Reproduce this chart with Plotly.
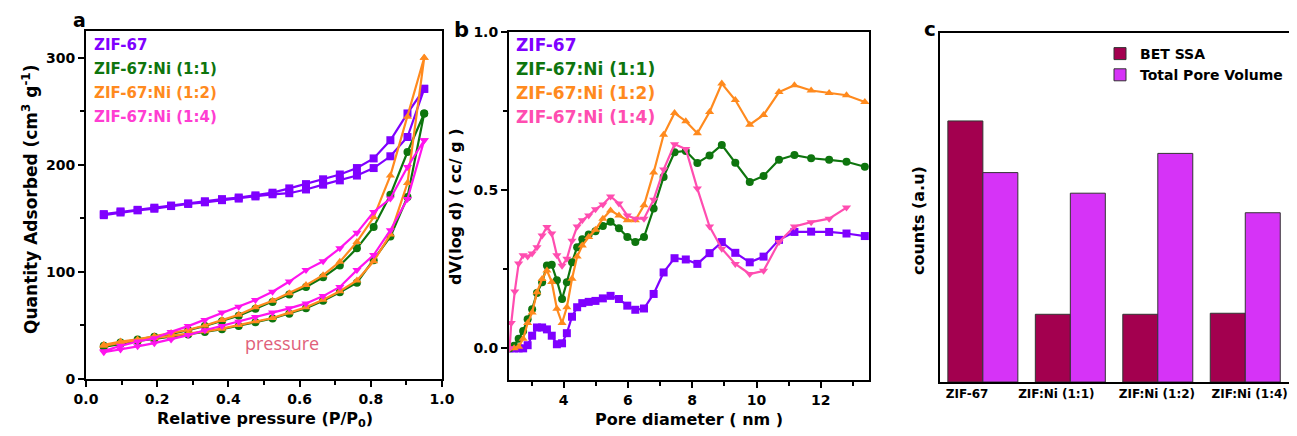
import plotly.graph_objects as go

# page has an 8px body margin; the figure is sized to fill the rest of the window
PAGE_OFF = 8
W, H = 1297 - PAGE_OFF, 436 - PAGE_OFF

# ---------------- Panel a: N2 isotherms ----------------
pa_x = [0.050, 0.097, 0.145, 0.192, 0.239, 0.287, 0.334, 0.382, 0.429, 0.476,
        0.524, 0.571, 0.618, 0.666, 0.713, 0.761, 0.808, 0.855, 0.903, 0.950]

zif_ads = [153, 155.5, 157.5, 159, 161.5, 163.5, 165, 167, 168.5, 170.5,
           172.5, 173.5, 177, 181.5, 185.5, 190, 197, 208, 226, 271]
zif_des = [154, 156.5, 158, 160, 162, 164, 166, 168, 169.5, 171.5,
           174, 178, 182, 186.5, 191, 197, 206, 223, 248, 271]
ni11_ads = [30, 33, 35.5, 37.5, 39.5, 41.5, 44, 46.5, 49.5, 53,
            56.5, 61, 66, 73, 81, 90, 111, 133, 170, 248]
ni11_des = [31, 34, 37, 39.5, 42, 45.5, 49.5, 54, 59, 65.5,
            72, 79, 86, 95, 106, 122, 142, 172, 212, 248]
ni12_ads = [31, 34, 36, 38, 40, 42, 44.5, 47, 50.5, 54,
            57, 62, 67, 74, 82, 92, 110, 135, 183, 300]
ni12_des = [32, 35, 37, 40, 43, 46, 50, 55, 60, 67,
            73, 80, 87.7, 97, 109.4, 128, 151, 190, 245, 300]
ni14_ads = [25, 27.5, 30.5, 33.5, 37, 41, 45.5, 49.5, 53.5, 58,
            62, 66, 70.6, 77.4, 86, 101.7, 115.7, 139, 168, 223]
ni14_des = [26, 31, 35, 38, 44, 49.4, 55, 62, 67.5, 73.7,
            81.5, 91, 101.7, 110, 122, 136.5, 156, 168.5, 198, 223]

# ---------------- Panel b: pore size distribution ----------------
pb_x = [2.32, 2.46, 2.60, 2.74, 2.88, 3.02, 3.17, 3.33, 3.48, 3.63,
        3.79, 3.95, 4.10, 4.26, 4.42, 4.58, 4.78, 4.99, 5.22, 5.46,
        5.72, 5.98, 6.23, 6.50, 6.80, 7.11, 7.45, 7.80, 8.16, 8.54,
        8.92, 9.34, 9.79, 10.22, 10.70, 11.18, 11.70, 12.26, 12.80, 13.37]
psd_zif = [0.0, 0.0, 0.0, 0.0, 0.01, 0.04, 0.066, 0.066, 0.06, 0.04,
           0.013, 0.016, 0.048, 0.10, 0.13, 0.143, 0.147, 0.15, 0.158, 0.166,
           0.156, 0.135, 0.122, 0.126, 0.172, 0.24, 0.285, 0.281, 0.267, 0.301,
           0.336, 0.302, 0.272, 0.29, 0.343, 0.368, 0.369, 0.368, 0.363, 0.355]
psd_11 = [0.0, 0.008, 0.03, 0.055, 0.092, 0.124, 0.175, 0.209, 0.262, 0.264,
          0.215, 0.156, 0.209, 0.272, 0.32, 0.345, 0.36, 0.37, 0.387, 0.40,
          0.38, 0.352, 0.336, 0.352, 0.442, 0.542, 0.62, 0.624, 0.586, 0.61,
          0.643, 0.587, 0.526, 0.545, 0.596, 0.611, 0.601, 0.596, 0.59, 0.574]
psd_12 = [0.0, 0.0, 0.005, 0.03, 0.08, 0.113, 0.177, 0.219, 0.246, 0.21,
          0.125, 0.08, 0.13, 0.22, 0.29, 0.325, 0.352, 0.375, 0.41, 0.436,
          0.42, 0.405, 0.405, 0.452, 0.556, 0.675, 0.744, 0.718, 0.68, 0.747,
          0.837, 0.785, 0.707, 0.738, 0.81, 0.832, 0.815, 0.807, 0.8, 0.779]
pb_x14 = [2.32, 2.37, 2.48, 2.60, 2.74, 2.88, 3.02, 3.17, 3.33, 3.48, 3.63,
          3.79, 3.95, 4.10, 4.26, 4.42, 4.58, 4.78, 4.99, 5.22, 5.46,
          5.72, 5.98, 6.23, 6.50, 6.80, 7.11, 7.45, 7.80, 8.16, 8.54,
          8.92, 9.34, 9.79, 10.22, 10.70, 11.18, 11.70, 12.26, 12.80]
psd_14 = [0.0, 0.08, 0.18, 0.268, 0.294, 0.29, 0.30, 0.32, 0.357, 0.384, 0.363,
          0.294, 0.261, 0.283, 0.34, 0.385, 0.405, 0.42, 0.44, 0.455, 0.48,
          0.458, 0.42, 0.41, 0.41, 0.47, 0.565, 0.645, 0.63, 0.505, 0.385,
          0.315, 0.267, 0.235, 0.245, 0.336, 0.385, 0.399, 0.41, 0.445]

# ---------------- Panel c: bars ----------------
samples_c = ["ZIF-67", "ZIF:Ni (1:1)", "ZIF:Ni (1:2)", "ZIF:Ni (1:4)"]
bet_ssa = [74.8, 19.4, 19.4, 19.7]
pore_vol = [60.0, 54.1, 65.5, 48.5]

legend_names = ["ZIF-67", "ZIF-67:Ni (1:1)", "ZIF-67:Ni (1:2)", "ZIF-67:Ni (1:4)"]

PURPLE = "#7F00FF"
GREEN = "#0E750E"
ORANGE = "#FF8A1E"
MAGENTA = "#FF14EE"
PINK = "#FF4DB0"
BET_C = "#A3004F"
TPV_C = "#D633F7"

FONT = "DejaVu Sans"

fig = go.Figure()

iso = [
    (zif_ads, zif_des, PURPLE, "square"),
    (ni11_ads, ni11_des, GREEN, "circle"),
    (ni12_ads, ni12_des, ORANGE, "triangle-up"),
    (ni14_ads, ni14_des, MAGENTA, "triangle-down"),
]
for (ads, des, col, sym), name in zip(iso, legend_names):
    fig.add_trace(go.Scatter(
        x=pa_x + pa_x[::-1], y=ads + des[::-1], mode="lines+markers",
        line=dict(color=col, width=2.2), marker=dict(symbol=sym, size=8, color=col),
        name=name, showlegend=False, xaxis="x", yaxis="y"))

psd = [
    (pb_x, psd_zif, PURPLE, "square"),
    (pb_x, psd_11, GREEN, "circle"),
    (pb_x, psd_12, ORANGE, "triangle-up"),
    (pb_x14, psd_14, PINK, "triangle-down"),
]
for (xs, ys, col, sym), name in zip(psd, legend_names):
    fig.add_trace(go.Scatter(
        x=xs, y=ys, mode="lines+markers",
        line=dict(color=col, width=2.2), marker=dict(symbol=sym, size=8, color=col),
        name=name, showlegend=False, xaxis="x2", yaxis="y2"))

xc = list(range(len(samples_c)))
fig.add_trace(go.Bar(x=xc, y=bet_ssa, name="BET SSA",
                     marker=dict(color=BET_C, line=dict(color="#333333", width=1)),
                     xaxis="x3", yaxis="y3"))
fig.add_trace(go.Bar(x=xc, y=pore_vol, name="Total Pore Volume",
                     marker=dict(color=TPV_C, line=dict(color="#333333", width=1)),
                     xaxis="x3", yaxis="y3"))

tickfont = dict(family=FONT, size=14, color="black", weight="bold")
base = dict(showline=True, linecolor="black", linewidth=2, mirror=True, ticks="outside",
            ticklen=6, tickwidth=1.5, tickcolor="black", showgrid=False, zeroline=False,
            tickfont=tickfont, automargin=False)


def minor(d):
    return dict(ticks="outside", ticklen=4, tickwidth=1.5, tickcolor="black", dtick=d, showgrid=False)


# convert target page pixels to paper fractions
def px(v):
    return (v - PAGE_OFF) / W


def py(v):
    return 1 - (v - PAGE_OFF) / H


label_offsets = [-0.18, -0.16, -0.01, 0.05]

fig.update_layout(
    width=W, height=H, margin=dict(l=0, r=0, t=0, b=0, autoexpand=False),
    paper_bgcolor="white", plot_bgcolor="white",
    barmode="group", bargap=0.2, bargroupgap=0,
    xaxis=dict(base, domain=[px(86), px(442)], range=[0, 1], tickvals=[0, 0.2, 0.4, 0.6, 0.8, 1.0],
               tickformat=".1f", minor=minor(0.1), anchor="y"),
    yaxis=dict(base, domain=[py(379), py(31)], range=[0, 325], tickvals=[0, 100, 200, 300],
               minor=minor(50), anchor="x"),
    xaxis2=dict(base, domain=[px(509), px(869)], range=[2.3, 13.5], tickvals=[4, 6, 8, 10, 12],
                minor=minor(1), anchor="y2"),
    yaxis2=dict(base, domain=[py(380), py(32)], range=[-0.1, 1.0], tickvals=[0, 0.5, 1.0],
                tickformat=".1f", minor=minor(0.25), anchor="x2"),
    xaxis3=dict(showline=True, linecolor="black", linewidth=2, mirror=True, ticks="",
                showgrid=False, zeroline=False, automargin=False,
                domain=[px(940), px(1289)], range=[-0.49, 3.5],
                tickvals=[i + o for i, o in zip(xc, label_offsets)], ticktext=samples_c,
                tickfont=dict(family=FONT, size=12, color="black", weight="bold"), anchor="y3"),
    yaxis3=dict(showline=True, linecolor="black", linewidth=2, mirror=True, ticks="",
                showticklabels=False, showgrid=False, zeroline=False, automargin=False,
                domain=[py(382), py(33)], range=[0, 100], anchor="x3"),
    showlegend=True,
    legend=dict(x=px(1100), y=py(38), xanchor="left", yanchor="top", bgcolor="rgba(0,0,0,0)",
                font=dict(family=FONT, size=14, color="black", weight="bold"),
                itemwidth=30, tracegroupgap=0),
)

ann = []


def add_text(text, x, y, size, color="black", angle=0, xanchor="center", weight="bold", family=FONT):
    ann.append(dict(text=text, x=px(x), y=py(y), xref="paper", yref="paper", showarrow=False,
                    xanchor=xanchor, yanchor="middle", textangle=angle,
                    font=dict(family=family, size=size, color=color, weight=weight)))


add_text("a", 79, 20, 19)
add_text("b", 461, 30, 21)
add_text("c", 930, 29, 20)

add_text("Quantity Adsorbed (cm<sup>3</sup> g<sup>-1</sup>)", 30, 200, 17, angle=-90)
add_text("Relative pressure (P/P<sub>0</sub>)", 265, 419, 16)
add_text("dV(log d) ( cc/ g )", 455, 206, 16, angle=-90)
add_text("Pore diameter ( nm )", 689, 419, 16)
add_text("counts (a.u)", 918, 221, 16, angle=-90)

leg_cols_a = [PURPLE, GREEN, ORANGE, "#FF3DD2"]
leg_cols_b = [PURPLE, GREEN, ORANGE, PINK]
for i, name in enumerate(legend_names):
    add_text(name, 92, 45 + i * 24, 15, color=leg_cols_a[i], xanchor="left")
    add_text(name, 514, 45 + i * 24, 17, color=leg_cols_b[i], xanchor="left")

add_text("pressure", 282, 343, 18, color="#E0607A", weight="normal", family="Open Sans")

fig.update_layout(annotations=ann)

fig.write_html("out.html")
